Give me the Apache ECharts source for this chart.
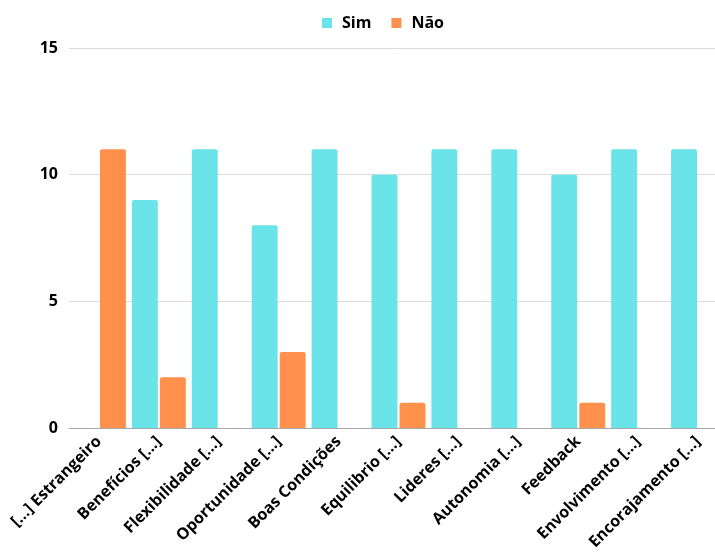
<!DOCTYPE html>
<html>

<head>
  <meta charset="utf-8">
  <style>
    html,
    body {
      width: 100%;
      height: 100%;
      margin: 0;
      padding: 0;
      overflow: hidden;
      background-color: #fff;
    }

    #container {
      width: 715px;
      height: 559px;
      position: absolute;
      top: 0;
      left: 0;
    }
  </style>
</head>

<body>
  <div id="container"></div>

  <script src="https://cdn.jsdelivr.net/npm/echarts@6/dist/echarts.min.js"></script>
  <script>
    // dados
    var categories = ['[...] Estrangeiro', 'Benefícios [...]', 'Flexibilidade [...]', 'Oportunidade [...]',
      'Boas Condições', 'Equilibrio [...]', 'Lideres [...]', 'Autonomia [...]', 'Feedback',
      'Envolvimento [...]', 'Encorajamento [...]'];
    var simValues = [0, 9, 11, 8, 11, 10, 11, 11, 10, 11, 11];
    var naoValues = [11, 2, 0, 3, 0, 1, 0, 0, 1, 0, 0];
    var yTicks = [0, 5, 10, 15];

    var font = '"Open Sans", "Noto Sans", sans-serif';
    var chart = echarts.init(document.getElementById('container'));

    chart.setOption({
      animation: false,
      color: ['#6ae4e8', '#ff914d'],
      legend: {
        top: 10,
        left: 317,
        itemWidth: 10,
        itemHeight: 10,
        itemGap: 20,
        icon: 'rect',
        textStyle: {
          fontFamily: font,
          fontWeight: 'bold',
          fontSize: 16,
          color: '#000',
          padding: [0, 0, 0, 5]
        }
      },
      grid: {
        left: 69,
        top: 48,
        bottom: 131,
        width: 659,
        containLabel: false,
        outerBoundsMode: 'none'
      },
      xAxis: {
        type: 'category',
        data: categories,
        axisTick: { show: false },
        axisLine: { lineStyle: { color: '#a6a6a6', width: 1 } },
        axisLabel: {
          rotate: 45,
          interval: 0,
          margin: 11,
          fontFamily: font,
          fontWeight: 'bold',
          fontSize: 16,
          color: '#000'
        }
      },
      yAxis: {
        type: 'value',
        min: yTicks[0],
        max: yTicks[yTicks.length - 1],
        interval: 5,
        axisLabel: {
          margin: 11,
          fontFamily: font,
          fontWeight: 'bold',
          fontSize: 16,
          color: '#000'
        },
        splitLine: { lineStyle: { color: '#dcdcdc' } }
      },
      series: [{
        name: 'Sim',
        type: 'bar',
        data: simValues,
        barGap: '8%',
        barCategoryGap: '10%',
        itemStyle: { borderRadius: [2, 2, 0, 0] }
      }, {
        name: 'Não',
        type: 'bar',
        data: naoValues,
        itemStyle: { borderRadius: [2, 2, 0, 0] }
      }]
    });
  </script>
</body>

</html>
